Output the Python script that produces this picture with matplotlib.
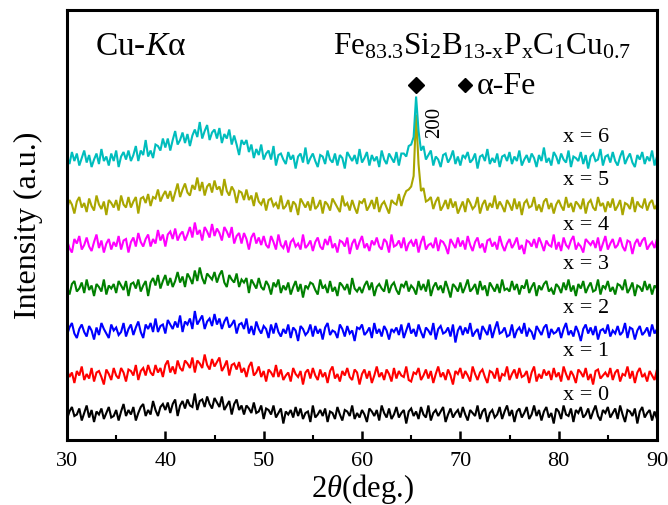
import numpy as np
import matplotlib
matplotlib.use("Agg")
import matplotlib.pyplot as plt

plt.rcParams['font.family'] = ['Liberation Serif', 'DejaVu Serif']
plt.rcParams['mathtext.fontset'] = 'custom'
plt.rcParams['mathtext.rm'] = 'Liberation Serif'
plt.rcParams['mathtext.it'] = 'Liberation Serif:italic'
plt.rcParams['mathtext.bf'] = 'Liberation Serif:bold'

# ---- data (intensity, 2theta from 30 to 90 deg, step 0.25) ----
x6 = [2,-3,5,-1,4,-4,1,6,-2,3,-5,0,4,-3,7,-1,2,-4,4,-1,
      6,-5,2,5,0,6,-1,3,9,-1,6,3,13,2,6,1,10,9,6,14,
      8,14,6,13,19,10,13,18,11,17,9,16,20,15,25,14,19,23,13,18,
      20,14,21,11,17,14,20,10,16,10,3,13,10,13,5,10,1,7,3,10,
      0,4,6,0,9,-4,3,4,0,-3,5,0,3,-6,2,4,-2,8,-3,1,
      4,-1,-5,3,2,-3,6,0,-2,4,-4,3,1,-6,5,2,-1,3,-3,7,
      -2,1,5,-4,3,-1,2,-5,6,0,-3,4,1,-2,5,-4,4,4,2,9,
      10,15,42,19,6,9,0,3,6,-4,2,0,-5,3,4,-2,1,6,-3,2,
      -4,3,1,5,-2,0,4,-6,2,3,-1,7,-3,1,-2,4,-5,2,3,-1,
      5,-3,2,-1,6,-4,0,3,-2,4,1,-5,3,-1,8,-2,1,-4,5,2,
      -3,4,0,-2,6,-5,2,1,-1,5,-3,3,-6,2,4,-1,0,7,-4,2,
      3,-2,5,-1,-4,2,6,-3,1,4,-2,-5,3,0,5,-3,2,-1,6,-4,
      2]
x5 = [-2,4,1,-5,3,6,-1,2,-4,5,0,-3,7,1,-2,3,-6,4,2,-1,
      4,-3,7,1,-1,6,-1,3,6,-5,5,6,2,8,0,6,5,11,3,7,
      10,5,10,3,9,15,6,11,15,9,7,14,11,19,10,16,7,13,15,9,
      17,11,13,7,18,10,7,13,10,2,10,9,4,11,4,7,0,9,3,1,
      5,-3,4,5,0,2,-2,7,-2,0,4,-4,3,1,-6,5,2,-1,3,-3,
      6,-2,0,4,-5,3,1,-3,5,2,-1,-4,7,0,2,-3,4,-1,-5,3,
      2,5,-3,0,4,-2,6,-4,1,3,-1,-5,4,2,1,8,0,6,10,11,
      13,20,61,28,10,12,3,4,6,-2,3,6,-3,0,4,-2,5,-1,3,-5,
      -1,3,-4,5,2,-2,0,6,-5,1,4,-3,2,-1,7,-2,3,0,-4,4,
      1,-3,5,-2,3,-6,2,4,-1,0,6,-3,1,-4,3,5,-2,2,-5,1,
      4,0,-3,6,-1,2,-4,3,1,-2,5,-5,2,4,-1,-3,6,0,2,-4,
      3,-1,5,-3,0,4,-6,2,1,-2,6,-4,3,0,-1,5,-3,2,4,-2,
      1]
x4 = [3,-2,-5,4,1,6,-3,0,5,-1,-4,2,7,-2,3,-5,1,4,-3,2,
      -1,6,-3,3,4,-5,2,5,-1,8,2,-1,4,7,-1,4,1,10,3,7,
      -1,7,9,4,11,3,7,9,3,7,12,5,15,7,10,3,12,9,5,14,
      6,11,8,3,12,9,5,12,1,6,8,1,8,4,-3,5,8,1,5,0,
      6,0,-2,6,2,-3,7,0,-2,3,-5,2,4,-1,1,-3,7,-2,0,3,
      -4,2,5,-1,-3,4,0,6,-2,1,-5,3,2,-1,5,-6,1,4,-3,2,
      6,-2,1,-4,3,0,5,-1,-3,4,2,-5,7,-1,0,3,-2,5,-4,1,
      3,-1,4,-5,2,6,-3,0,1,-2,5,-4,3,2,-1,-6,4,1,-2,5,
      -1,3,-3,6,0,-4,2,5,-2,1,-5,3,4,-1,2,-3,6,0,-4,1,
      4,-2,1,5,-3,0,-6,3,2,-1,4,-2,5,1,-4,3,0,-1,7,-3,
      2,-4,5,0,-2,3,6,-3,1,-1,-5,4,2,0,3,-2,5,-4,1,6,
      -3,1,4,-2,0,5,-1,-4,3,2,-6,1,4,-1,3,5,-3,0,2,-2,
      4]
x3 = [1,-4,3,5,-2,0,4,-3,6,-1,2,-5,3,1,-2,6,-4,2,0,3,
      -3,5,2,-1,5,-5,3,4,0,6,-2,2,5,-5,4,7,2,9,0,5,
      9,2,7,1,5,11,4,8,1,10,7,3,12,5,14,7,3,10,8,6,
      11,4,9,12,4,1,9,6,4,10,1,6,4,7,-3,6,3,0,7,1,
      -1,5,2,-4,4,1,6,-3,2,-1,4,-4,1,5,-2,3,-6,2,0,4,
      3,-1,-4,6,0,2,-3,5,-2,1,-5,4,2,-1,3,-4,7,0,-2,1,
      -3,2,5,-1,4,-5,1,3,0,-2,6,-3,2,4,-1,-4,3,1,5,-2,
      2,0,-4,5,-1,3,-2,6,-5,1,4,-1,2,-3,5,0,-6,3,1,-2,
      4,-3,1,6,-2,0,3,-4,5,-1,2,-5,4,1,-2,3,-3,6,-1,0,
      -2,5,-1,3,-4,2,0,6,-3,1,4,-5,2,-1,3,5,-2,0,-4,3,
      1,-3,4,-1,6,-2,2,-5,3,0,5,-3,1,4,-2,-1,6,-4,2,0,
      5,-2,1,-4,3,2,-1,6,-3,0,4,-5,2,1,-2,5,-1,3,-4,2,
      0]
x2 = [-2,3,6,-1,-4,2,5,0,-3,4,1,-5,3,-2,6,2,-1,-4,5,1,
      3,-2,0,6,-3,2,5,-2,3,7,0,-4,5,2,6,0,9,0,4,5,
      -1,8,5,2,7,3,11,0,7,5,9,2,14,5,8,11,2,7,9,4,
      12,5,9,2,7,10,3,5,8,-1,5,6,2,9,-1,4,-2,7,2,-1,
      4,2,-4,5,-1,6,0,-3,2,-1,5,-4,3,1,-6,4,2,-2,0,5,
      -3,4,-1,2,-5,3,6,-2,1,0,-4,5,2,-3,4,-1,1,-6,3,2,
      5,-2,0,3,-4,6,-1,2,-3,4,1,-5,2,0,3,-2,5,-4,1,6,
      -1,2,-3,5,0,-4,3,1,-2,6,-5,2,4,-1,0,3,-3,5,-7,1,
      4,-2,3,-1,6,-3,0,2,-5,4,1,-2,5,-4,2,7,-1,0,3,-3,
      -2,5,-4,1,3,-1,6,-3,2,0,-5,4,1,-2,3,5,-4,2,-1,0,
      3,-4,2,6,-2,1,-3,4,0,-6,2,5,-1,3,-2,4,-5,1,2,-1,
      5,-3,1,-1,4,-2,0,6,-4,3,2,-5,1,4,-2,0,3,-3,5,-1,
      2]
x1 = [4,-1,2,-5,3,0,6,-3,1,-2,5,-4,2,3,-1,-6,4,1,-3,5,
      0,-2,5,2,-4,4,3,0,7,-3,3,5,0,7,2,0,7,2,5,-1,
      7,10,2,6,1,10,5,3,10,8,5,12,2,10,8,5,14,7,4,11,
      6,9,12,3,6,10,0,7,8,4,9,2,5,-1,6,9,0,2,6,-1,
      3,-4,4,2,-1,7,-1,4,-3,0,2,-4,5,1,-1,3,-6,2,4,-2,
      5,0,-3,4,-1,2,-5,3,6,-2,1,-4,3,0,5,-1,-3,4,2,-6,
      1,4,-2,3,-5,0,6,-1,2,-3,4,1,-4,5,-2,3,0,-1,6,-3,
      -4,2,1,5,-3,0,4,-2,3,-5,1,6,-1,2,-3,4,0,-6,3,1,
      5,-2,3,0,-4,6,1,-3,2,4,-1,-5,3,2,-2,5,-4,1,0,6,
      -3,1,4,-2,5,-1,0,3,-5,2,6,-4,1,-2,4,0,3,-3,5,-1,
      2,-4,6,1,-3,3,0,-5,4,2,-1,5,-3,1,-6,3,4,-2,0,2,
      -1,5,-3,2,4,-4,1,0,6,-2,3,-5,2,5,-1,1,-4,3,0,-3,
      4]
x0 = [-3,2,5,-1,0,4,-4,1,6,-2,3,-5,2,0,4,-3,1,5,-2,-1,
      3,-4,2,7,-1,3,0,5,-4,1,5,7,-1,3,0,9,3,-1,5,7,
      3,8,1,7,10,-1,6,9,4,10,6,5,14,3,9,10,5,12,7,4,
      11,8,5,12,3,6,9,0,7,10,3,6,0,6,4,1,8,1,2,6,
      -3,4,3,0,6,-2,1,4,-6,2,0,3,-2,5,-1,4,-3,1,2,-5,
      6,-2,0,3,-1,4,-5,2,1,-3,5,0,-4,3,2,-1,6,-3,1,-2,
      3,0,-5,4,2,-1,3,-4,6,1,-2,4,-3,0,5,-2,1,3,-6,2,
      4,-1,2,-3,5,0,-2,6,-4,1,3,-1,2,5,-5,0,4,-2,1,3,
      -2,5,0,-4,3,1,-1,6,-3,2,4,-5,1,3,-2,0,5,-3,2,6,
      -1,3,-5,2,4,-2,1,5,-3,0,6,-1,3,-4,2,5,-2,1,-6,4,
      2,-3,6,0,-1,4,-5,3,1,5,-2,0,4,-3,2,6,-1,-4,3,1,
      5,-2,1,4,-3,6,0,-5,3,2,-1,4,-6,2,5,-2,1,3,-4,2,
      -3]

series = [x0, x1, x2, x3, x4, x5, x6]
labels = ["x = 0", "x = 1", "x = 2", "x = 3", "x = 4", "x = 5", "x = 6"]
offsets = [17, 43, 72, 101, 130, 156, 187]
label_y = [30, 59, 88, 117, 143, 173, 202]
colors = ["#000000", "#FF0000", "#0000FF", "#008000", "#FF00FF", "#A9A600", "#00BDBD"]
xticks = [30, 40, 50, 60, 70, 80, 90]

fig = plt.figure(figsize=(6.68, 5.05), dpi=100)
ax = fig.add_axes([67/668, 65/505, 590/668, 430/505])

for vals, off, col in zip(series, offsets, colors):
    tt = np.linspace(30, 90, len(vals))
    ax.plot(tt, np.asarray(vals) + off, color=col, lw=1.5, solid_joinstyle='miter')

for lab, ly in zip(labels, label_y):
    ax.text(82.8, ly, lab, ha='center', va='center', fontsize=16)

ax.set_xlim(30, 90)
ax.set_ylim(0, 286.7)
ax.set_xticks(xticks)
ax.set_xticks([35, 45, 55, 65, 75, 85], minor=True)
ax.set_yticks([])
ax.tick_params(axis='x', which='major', direction='in', length=6.5, width=1.8,
               labelsize=16, pad=9, top=False)
ax.tick_params(axis='x', which='minor', direction='in', length=3.5, width=1.5, top=False)
for s in ax.spines.values():
    s.set_linewidth(2.2)

ax.set_xlabel(r"2$\theta$(deg.)", fontsize=22, labelpad=0)
ax.set_ylabel("Intensity (a.u.)", fontsize=23, labelpad=17)

ax.text(32.85, 257, r"Cu-$K$α", fontsize=24, ha='left', va='baseline')
ax.text(57.1, 257,
        r"Fe$_{\mathrm{83.3}}$Si$_{\mathrm{2}}$B$_{\mathrm{13\text{-}x}}$P$_{\mathrm{x}}$C$_{\mathrm{1}}$Cu$_{\mathrm{0.7}}$",
        fontsize=22.5, ha='left', va='baseline')
ax.plot([65.5], [237], marker='D', ms=8, color='black', ls='none')
ax.plot([70.5], [237], marker='D', ms=7, color='black', ls='none')
ax.text(71.7, 236, "α-Fe", fontsize=23, ha='left', va='center')
ax.text(67.4, 212, "200", fontsize=15, rotation=90, ha='center', va='center')

fig.savefig("out.png", dpi=100)
